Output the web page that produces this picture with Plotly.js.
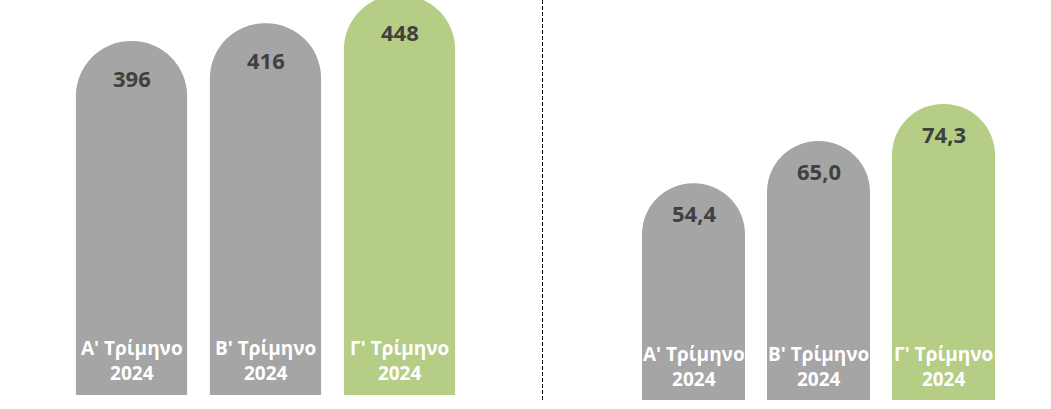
<!DOCTYPE html>
<html>
<head>
<meta charset="utf-8">
<script src="https://cdn.plot.ly/plotly-3.0.1.min.js"></script>
<style>html,body{margin:0;padding:0;background:#fff;}#chart{width:1051px;height:409px;}</style>
</head>
<body>
<div id="chart"></div>
<script>
const categories = ["Α' Τρίμηνο<br>2024", "Β' Τρίμηνο<br>2024", "Γ' Τρίμηνο<br>2024"];
const leftValues = [396, 416, 448];
const rightValues = [54.4, 65.0, 74.3];
const leftLabels = ["396", "416", "448"];
const rightLabels = ["54,4", "65,0", "74,3"];
const barColors = ["#A5A5A5", "#A5A5A5", "#B6CD85"];

const FONT = "Open Sans, sans-serif";
const ids = [0, 1, 2];
const W = 1051, H = 409;

// axis geometry
const leftDomain = [14 / H, 1], leftRange = [0, 442];
const rightDomain = [9 / H, 1], rightRange = [0, 100.4];
const leftScale = (leftDomain[1] - leftDomain[0]) * H / leftRange[1];   // px per unit
const rightScale = (rightDomain[1] - rightDomain[0]) * H / rightRange[1];
const leftValueOffsetPx = 37, rightValueOffsetPx = 30;

const traces = [
  {type: 'bar', x: ids, y: leftValues, xaxis: 'x', yaxis: 'y', width: 0.83,
   marker: {color: barColors, cornerradius: '50%'}, hoverinfo: 'none', cliponaxis: true},
  {type: 'bar', x: ids, y: rightValues, xaxis: 'x2', yaxis: 'y2', width: 0.824,
   marker: {color: barColors, cornerradius: '50%'}, hoverinfo: 'none', cliponaxis: true}
];

const valueFont = {family: FONT, size: 22, color: '#404040', weight: 'bold'};
const catFont = {family: FONT, size: 19, color: '#FFFFFF', weight: 'bold'};

const annotations = [];
ids.forEach(i => {
  annotations.push({xref: 'x', yref: 'y', x: i, y: leftValues[i] - leftValueOffsetPx / leftScale, yanchor: 'middle',
    text: leftLabels[i], showarrow: false, font: valueFont});
  annotations.push({xref: 'x2', yref: 'y2', x: i, y: rightValues[i] - rightValueOffsetPx / rightScale, yanchor: 'middle',
    text: rightLabels[i], showarrow: false, font: valueFont});
  annotations.push({xref: 'x', yref: 'y', x: i, y: 0, yanchor: 'middle', yshift: 34.5,
    text: categories[i], showarrow: false, font: catFont});
  annotations.push({xref: 'x2', yref: 'y2', x: i, y: 0, yanchor: 'middle', yshift: 33.5,
    text: categories[i], showarrow: false, font: catFont});
});

const axisOff = {showgrid: false, zeroline: false, showticklabels: false, showline: false, ticks: '', fixedrange: true};

const layout = {
  width: W, height: H,
  margin: {l: 0, r: 0, t: 0, b: 0},
  paper_bgcolor: '#fff', plot_bgcolor: '#fff',
  showlegend: false,
  xaxis: Object.assign({}, axisOff, {domain: [64.5 / W, 466.5 / W], range: [-0.5, 2.5]}),
  yaxis: Object.assign({}, axisOff, {domain: leftDomain, range: leftRange}),
  xaxis2: Object.assign({}, axisOff, {domain: [631 / W, 1006 / W], range: [-0.5, 2.5], anchor: 'y2'}),
  yaxis2: Object.assign({}, axisOff, {domain: rightDomain, range: rightRange, anchor: 'x2'}),
  annotations: annotations,
  shapes: [{type: 'line', xref: 'paper', yref: 'paper', x0: 542.5 / W, x1: 542.5 / W, y0: 9 / H, y1: 1,
    line: {color: '#000', width: 1, dash: '4px,2px'}}]
};

Plotly.newPlot('chart', traces, layout, {staticPlot: true, displayModeBar: false});
</script>
</body>
</html>
